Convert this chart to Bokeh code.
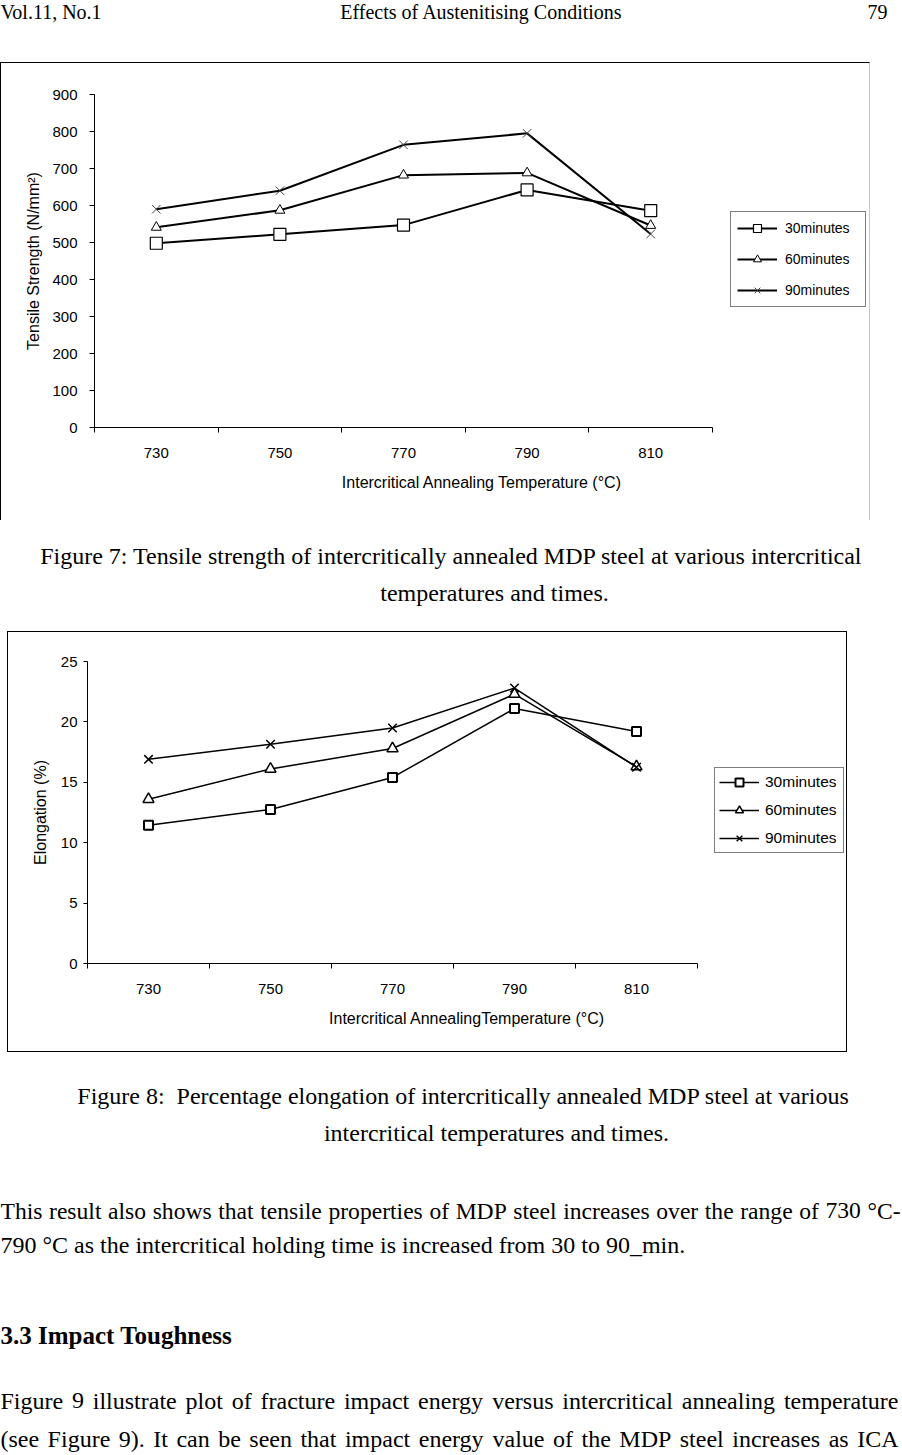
from bokeh.plotting import figure
from bokeh.models import Range1d, FixedTicker, Legend, LegendItem, Spacer
from bokeh.layouts import column, row
from bokeh.embed import file_html
from bokeh.resources import INLINE
from bokeh.core.properties import value

# ---------------- data ----------------
temperatures = ["730", "750", "770", "790", "810"]
series_names = ["30minutes", "60minutes", "90minutes"]

tensile_30 = [498, 522, 547, 642, 586]
tensile_60 = [541, 587, 682, 688, 546]
tensile_90 = [590, 640, 764, 795, 523]
tensile_ticks = [0, 100, 200, 300, 400, 500, 600, 700, 800, 900]

elong_30 = [11.45, 12.75, 15.4, 21.1, 19.2]
elong_60 = [13.6, 16.1, 17.8, 22.3, 16.3]
elong_90 = [16.9, 18.15, 19.5, 22.8, 16.25]
elong_ticks = [0, 5, 10, 15, 20, 25]

SERIF = "Liberation Serif"
SANS = "Liberation Sans"
PAGE_W = 902

xs = [i + 0.5 for i in range(len(temperatures))]
bounds_ticks = list(range(len(temperatures) + 1))
label_map = {x: t for x, t in zip(xs, temperatures)}

# Times-compatible advance widths (per 1000 em) used to justify text lines
_W = {" ": 250, "(": 333, ")": 333, ".": 250, ",": 250, ":": 278, "-": 333,
      "_": 500, "°": 400}
_W.update({d: 500 for d in "0123456789"})
_W.update(dict(zip("abcdefghijklmnopqrstuvwxyz",
                   [444, 500, 444, 500, 444, 333, 500, 500, 278, 278, 500, 278, 778,
                    500, 500, 500, 500, 333, 389, 278, 500, 500, 722, 500, 500, 444])))
_W.update(dict(zip("ABCDEFGHIJKLMNOPQRSTUVWXYZ",
                   [722, 667, 667, 722, 611, 556, 722, 722, 333, 389, 722, 611, 889,
                    722, 722, 556, 722, 667, 556, 611, 722, 722, 944, 722, 722, 611])))


def word_width(w, size):
    return sum(_W.get(c, 500) for c in w) * size / 1000.0


def justified(line, y, size, x0, x1):
    words = line.split(" ")
    widths = [word_width(w, size) for w in words]
    gap = (x1 - x0 - sum(widths)) / (len(words) - 1)
    out = []
    x = x0
    for i, (w, ww) in enumerate(zip(words, widths)):
        if i == len(words) - 1:
            out.append((x1, y, w, size, "right", "normal"))
        else:
            out.append((x, y, w, size, "left", "normal"))
        x += ww + gap
    return out


def text_panel(height, items):
    p = figure(width=PAGE_W, height=height, x_range=Range1d(0, PAGE_W),
               y_range=Range1d(height, 0), toolbar_location=None,
               output_backend="svg", min_border=0,
               x_axis_location=None, y_axis_location=None)
    p.frame_align = False
    p.grid.visible = False
    p.outline_line_color = None
    p.background_fill_color = "white"
    for (x, y, txt, size, align, style) in items:
        p.text(x=[x], y=[y], text=[txt], text_font=value(SERIF),
               text_font_size=f"{size}px", text_align=align,
               text_baseline="middle", text_font_style=style,
               text_color="black")
    return p


def chart(width, height, frame_left, frame_top, frame_bottom, cat_w,
          ymax, yticks, series, ylabel, xlabel, fs_tick, fs_title,
          ystand, ytitle_stand, xstand, xtitle_stand, ytick_out,
          line_w, marker_specs, legend_loc, legend_cfg):
    x_end = (width - frame_left) / cat_w
    p = figure(width=width, height=height, x_range=Range1d(0, x_end),
               y_range=Range1d(0, ymax), toolbar_location=None,
               output_backend="svg",
               min_border_left=frame_left, min_border_top=frame_top,
               min_border_bottom=height - frame_bottom,
               min_border_right=0)
    p.frame_align = False
    p.grid.visible = False
    p.outline_line_color = None

    xa = p.xaxis[0]
    xa.ticker = FixedTicker(ticks=xs, minor_ticks=bounds_ticks)
    xa.major_label_overrides = label_map
    xa.bounds = (0, len(temperatures))
    xa.major_tick_out = 0
    xa.major_tick_in = 0
    xa.minor_tick_out = 5
    xa.minor_tick_in = 0
    xa.minor_tick_line_color = "black"
    xa.axis_line_color = "black"
    xa.major_label_standoff = xstand
    xa.major_label_text_font = SANS
    xa.major_label_text_font_size = f"{fs_tick}px"
    xa.major_label_text_color = "black"
    xa.axis_label = xlabel
    xa.axis_label_text_font = SANS
    xa.axis_label_text_font_size = f"{fs_title}px"
    xa.axis_label_text_font_style = "normal"
    xa.axis_label_text_color = "black"
    xa.axis_label_standoff = xtitle_stand

    ya = p.yaxis[0]
    ya.ticker = FixedTicker(ticks=yticks, minor_ticks=[])
    ya.major_tick_out = ytick_out
    ya.major_tick_in = 0
    ya.minor_tick_out = 0
    ya.minor_tick_in = 0
    ya.axis_line_color = "black"
    ya.major_tick_line_color = "black"
    ya.major_label_standoff = ystand
    ya.major_label_text_font = SANS
    ya.major_label_text_font_size = f"{fs_tick}px"
    ya.major_label_text_color = "black"
    ya.axis_label = ylabel
    ya.axis_label_text_font = SANS
    ya.axis_label_text_font_size = f"{fs_title}px"
    ya.axis_label_text_font_style = "normal"
    ya.axis_label_text_color = "black"
    ya.axis_label_standoff = ytitle_stand

    items = []
    for (name, vals), spec in zip(series, marker_specs):
        r_line = p.line(xs, vals, line_color="black", line_width=line_w)
        r_mark = p.scatter(xs, vals, marker=spec["marker"], size=spec["size"],
                           fill_color="white", line_color=spec.get("color", "black"),
                           line_width=spec["lw"])
        items.append(LegendItem(label=name, renderers=[r_line, r_mark]))

    leg = Legend(items=items, location=legend_loc, **legend_cfg)
    leg.label_text_font = SANS
    leg.label_text_color = "black"
    leg.border_line_color = "black"
    leg.border_line_width = 1
    leg.background_fill_color = "white"
    leg.background_fill_alpha = 1
    leg.margin = 0
    p.add_layout(leg)
    return p


# ---------------- header ----------------
header = text_panel(62, [
    (0, 11, "Vol.11, No.1", 20, "left", "normal"),
    (481, 11, "Effects of Austenitising Conditions", 20, "center", "normal"),
    (887, 11, "79", 20, "right", "normal"),
])

# ---------------- chart 1 ----------------
chart1 = chart(
    868, 457, 93, 31, 364, 123.6, 900, tensile_ticks,
    list(zip(series_names, [tensile_30, tensile_60, tensile_90])),
    "Tensile Strength (N/mm²)", "Intercritical Annealing Temperature (°C)",
    15, 16, 12, 7, 15, 13, 5, 2,
    [dict(marker="square", size=12, lw=1.2),
     dict(marker="triangle", size=10, lw=1),
     dict(marker="x", size=12, lw=1, color="#444444")],
    (636, 120),
    dict(padding=6, spacing=11, glyph_width=40, glyph_height=20,
         label_height=20, label_width=74, label_standoff=8,
         label_text_font_size="14px"))
box1 = column(chart1, spacing=0, styles={
    "border-left": "1px solid black", "border-top": "1px solid black",
    "border-right": "1px solid #c8c8c8"})
row1 = row(box1, Spacer(width=PAGE_W - 870, height=458), spacing=0)

# ---------------- captions 1 ----------------
mid = text_panel(111, [
    (451, 35, "Figure 7: Tensile strength of intercritically annealed MDP steel at various intercritical", 24, "center", "normal"),
    (494, 72, "temperatures and times.", 24, "center", "normal"),
])

# ---------------- chart 2 ----------------
chart2 = chart(
    838, 419, 79, 29, 331, 122, 25, elong_ticks,
    list(zip(series_names, [elong_30, elong_60, elong_90])),
    "Elongation (%)", "Intercritical AnnealingTemperature (°C)",
    15, 16, 6, 9, 15, 13, 4, 1.5,
    [dict(marker="square", size=9, lw=2),
     dict(marker="triangle", size=11, lw=1.5),
     dict(marker="x", size=12, lw=1.5)],
    (627, 110),
    dict(padding=4, spacing=8, glyph_width=40, glyph_height=20,
         label_height=20, label_width=74, label_standoff=6,
         label_text_font_size="15.5px"))
box2 = column(chart2, spacing=0, styles={"border": "1px solid black"})
row2 = row(Spacer(width=7, height=421), box2,
           Spacer(width=PAGE_W - 847, height=421), spacing=0)

# ---------------- bottom text ----------------
bottom_items = [
    (463, 43, "Figure 8:\u00a0 Percentage elongation of intercritically annealed MDP steel at various", 24, "center", "normal"),
    (496, 80, "intercritical temperatures and times.", 24, "center", "normal"),
    (0, 192, "790 °C as the intercritical holding time is increased from 30 to 90_min.", 24, "left", "normal"),
    (0, 283, "3.3 Impact Toughness", 25, "left", "bold"),
]
bottom_items += justified("This result also shows that tensile properties of MDP steel increases over the range of 730 °C-", 158, 23.6, 0, 900)
bottom_items += justified("Figure 9 illustrate plot of fracture impact energy versus intercritical annealing temperature", 348, 24, 0, 898)
bottom_items += justified("(see Figure 9). It can be seen that impact energy value of the MDP steel increases as ICA", 386, 24, 0, 898)
bottom = text_panel(403, bottom_items)

page = column(header, row1, mid, row2, bottom, spacing=0)

open("out.html", "w").write(file_html(page, INLINE))
